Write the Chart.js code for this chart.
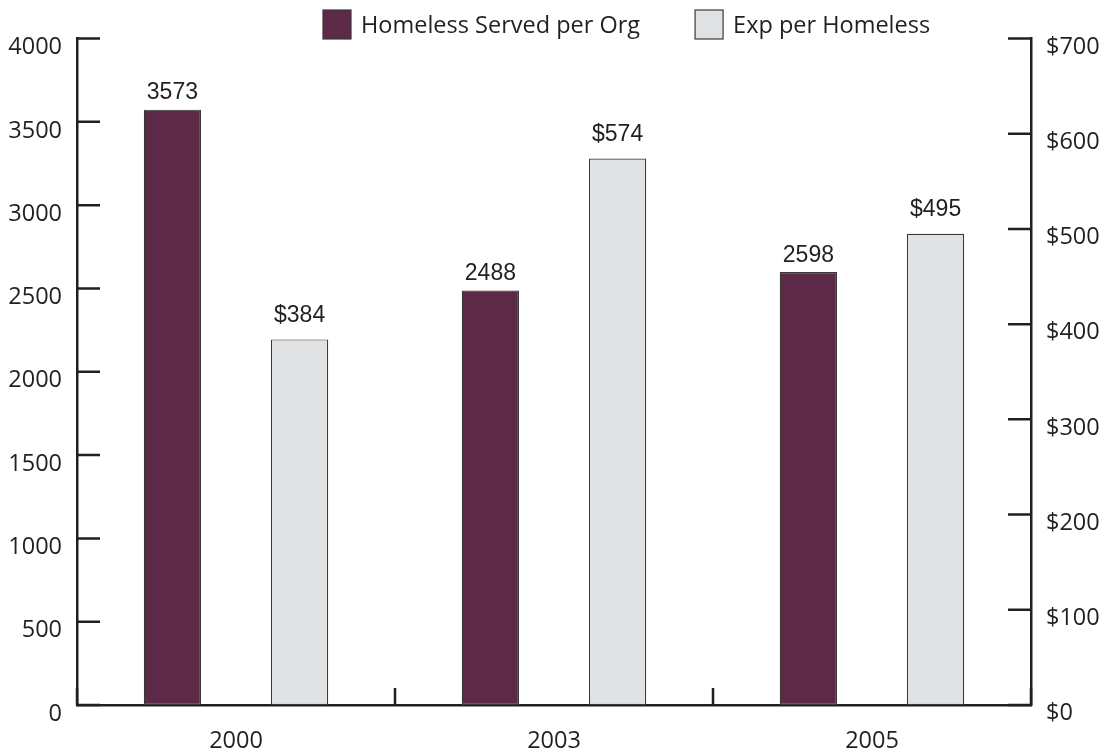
<!DOCTYPE html>
<html>
<head>
<meta charset="utf-8">
<title>Homeless Served per Org / Exp per Homeless</title>
<script src="https://cdn.jsdelivr.net/npm/chart.js@4.4.1/dist/chart.umd.min.js"></script>
<style>
  html, body { margin: 0; padding: 0; background: #ffffff; }
  #wrap { width: 1105px; height: 753px; }
  canvas { display: block; }
</style>
</head>
<body>
<div id="wrap"><canvas id="chart" width="1105" height="753"></canvas></div>
<script>
// ---- data ----
const years = ['2000', '2003', '2005'];
const servedPerOrg = [3573, 2488, 2598];
const expPerHomeless = [384, 574, 495];
const leftTickValues = [0, 500, 1000, 1500, 2000, 2500, 3000, 3500, 4000];
const rightTickValues = [0, 100, 200, 300, 400, 500, 600, 700];
const seriesNames = ['Homeless Served per Org', 'Exp per Homeless'];
const valuePrefixes = ['', '$'];

// ---- style ----
const INK = '#231f20';
const PURPLE = '#5c2946';
const GREY = '#e1e2e4';
const BAR_EDGE = '#3b3838';
const AXIS_W = 2.5;
const axisFont = { family: '"Open Sans", "Noto Sans", sans-serif', size: 23.5 };

// inward tick marks on both value axes and upward category separators
const axisTicks = {
  id: 'axisTicks',
  afterDraw(chart) {
    const { ctx, chartArea: a, scales } = chart;
    ctx.save();
    ctx.strokeStyle = INK;
    ctx.lineWidth = AXIS_W;
    ctx.beginPath();
    scales.y.ticks.forEach(t => {
      const y = scales.y.getPixelForValue(t.value);
      ctx.moveTo(a.left, y); ctx.lineTo(a.left + 23, y);
    });
    scales.y1.ticks.forEach(t => {
      const y = scales.y1.getPixelForValue(t.value);
      ctx.moveTo(a.right, y); ctx.lineTo(a.right - 23, y);
    });
    const xs = scales.x;
    const n = xs.ticks.length;
    const half = n > 1 ? (xs.getPixelForValue(1) - xs.getPixelForValue(0)) / 2 : (a.right - a.left) / 2;
    for (let i = 0; i <= n; i++) {
      const x = (i < n ? xs.getPixelForValue(i) : xs.getPixelForValue(n - 1) + 2 * half) - half;
      ctx.moveTo(x, a.bottom); ctx.lineTo(x, a.bottom - 17);
    }
    ctx.stroke();
    ctx.restore();
  }
};

// value labels above each bar
const barValues = {
  id: 'barValues',
  afterDatasetsDraw(chart) {
    const { ctx } = chart;
    ctx.save();
    ctx.font = '23px "Liberation Sans", Arial, sans-serif';
    ctx.fillStyle = INK;
    ctx.textAlign = 'center';
    ctx.textBaseline = 'alphabetic';
    const gaps = [10.5, 17.5];
    chart.data.datasets.forEach((ds, di) => {
      chart.getDatasetMeta(di).data.forEach((bar, i) => {
        ctx.fillText(valuePrefixes[di] + ds.data[i], bar.x, bar.y - gaps[di]);
      });
    });
    ctx.restore();
  }
};

// legend row across the top
const topLegend = {
  id: 'topLegend',
  afterDraw(chart) {
    const { ctx, chartArea: a } = chart;
    ctx.save();
    ctx.font = '23.5px "Open Sans", "Noto Sans", sans-serif';
    ctx.textBaseline = 'alphabetic';
    ctx.textAlign = 'left';
    let x = a.left + 246;
    chart.data.datasets.forEach((ds, di) => {
      ctx.fillStyle = ds.backgroundColor;
      ctx.fillRect(x, 10, 28, 29);
      ctx.strokeStyle = BAR_EDGE;
      ctx.lineWidth = 1.2;
      ctx.strokeRect(x, 10, 28, 29);
      ctx.fillStyle = INK;
      ctx.fillText(ds.label, x + 38, 33);
      x += 38 + ctx.measureText(ds.label).width + 55;
    });
    ctx.restore();
  }
};

new Chart(document.getElementById('chart'), {
  type: 'bar',
  data: {
    labels: years,
    datasets: [
      {
        label: seriesNames[0],
        data: servedPerOrg,
        yAxisID: 'y',
        backgroundColor: PURPLE,
        borderColor: BAR_EDGE,
        borderWidth: 1.2,
        borderSkipped: false
      },
      {
        label: seriesNames[1],
        data: expPerHomeless,
        yAxisID: 'y1',
        backgroundColor: GREY,
        borderColor: BAR_EDGE,
        borderWidth: 1.2,
        borderSkipped: false
      }
    ]
  },
  options: {
    responsive: false,
    devicePixelRatio: 1,
    animation: false,
    categoryPercentage: 0.8,
    barPercentage: 0.45,
    layout: { padding: { top: 38.5, left: 8, right: 0, bottom: 0 } },
    plugins: {
      legend: { display: false },
      tooltip: { enabled: false },
      title: { display: false }
    },
    scales: {
      x: {
        offset: true,
        grid: { display: false, drawTicks: false, offset: true },
        border: { display: true, color: INK, width: AXIS_W },
        ticks: { font: axisFont, color: INK, padding: 22, maxRotation: 0 },
        afterFit: s => { s.height = 48; }
      },
      y: {
        position: 'left',
        min: 0,
        max: 4000,
        grid: { display: false, drawTicks: false },
        border: { display: true, color: INK, width: AXIS_W },
        ticks: { font: axisFont, color: INK, padding: 15, labelOffset: 9, callback: v => String(v) },
        afterBuildTicks: s => { s.ticks = leftTickValues.map(v => ({ value: v })); },
        afterFit: s => { s.width = 69; }
      },
      y1: {
        position: 'right',
        min: 0,
        max: 700,
        grid: { display: false, drawTicks: false },
        border: { display: true, color: INK, width: AXIS_W },
        ticks: { font: axisFont, color: INK, padding: 15, labelOffset: 8.5, callback: v => '$' + v },
        afterBuildTicks: s => { s.ticks = rightTickValues.map(v => ({ value: v })); },
        afterFit: s => { s.width = 74; }
      }
    }
  },
  plugins: [axisTicks, barValues, topLegend]
});
</script>
</body>
</html>
